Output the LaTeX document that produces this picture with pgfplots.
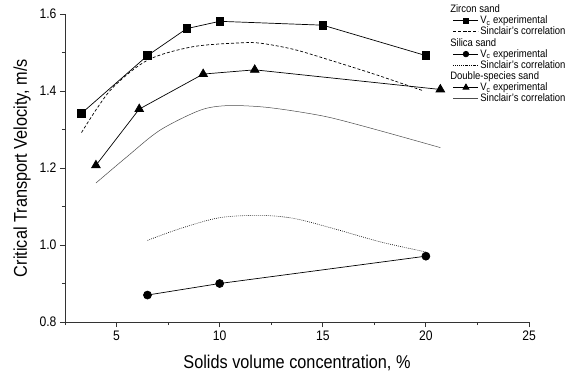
\documentclass[border=0pt]{standalone}
\usepackage{fontspec}
\setmainfont{Liberation Sans}[FakeStretch=0.88]
\usepackage{pgfplots}
\pgfplotsset{compat=1.18}

\begin{document}
\begin{tikzpicture}
\begin{axis}[
  scale only axis, width=464pt, height=308pt,
  xmin=2.5, xmax=25, ymin=0.8, ymax=1.6,
  axis x line*=bottom, axis y line*=left,
  xtick pos=bottom, ytick pos=left,
  axis line style={-, line width=0.8pt, black!80},
  xtick={5,10,15,20,25}, minor xtick={2.5,7.5,12.5,17.5,22.5},
  ytick={0.8,1.0,1.2,1.4,1.6}, minor ytick={0.9,1.1,1.3,1.5},
  tick align=outside, major tick length=5pt, minor tick length=3pt,
  every tick/.style={line width=0.8pt, black!80},
  yticklabel style={/pgf/number format/.cd, fixed, fixed zerofill, precision=1},
  /pgf/number format/assume math mode=true,
  ticklabel style={font=\fontsize{13.8}{15}\selectfont},
  label style={font=\fontsize{18.5}{21}\selectfont},
  xlabel={Solids volume concentration, \%},
  ylabel={Critical Transport Velocity, m/s},
  xlabel shift=8pt, ylabel shift=2pt,
  legend style={at={(rel axis cs:0.836,1.035)}, anchor=north west, draw=none, fill=none,
    font=\fontsize{10.8}{11}\selectfont, row sep=-1.2pt, inner sep=0pt,
    nodes={inner sep=1.5pt}},
  legend cell align=left,
  legend image code/.code={\draw[mark repeat=2,mark phase=2,#1,every mark/.append style={scale=0.7}]
     plot coordinates {(0pt,0pt) (12.5pt,0pt) (25pt,0pt)};},
]
% Zircon sand
\addlegendimage{empty legend}
\addlegendentry{\hspace*{-30pt}Zircon sand}
\addplot[black, line width=0.7pt, mark=square*, mark size=3.8pt] coordinates {
 (3.3,1.342) (6.5,1.492) (8.4,1.562) (10,1.581) (15,1.571) (20,1.492)};
\addlegendentry{V\textsubscript{c} experimental}
\addplot[black, line width=0.7pt, dash pattern=on 3pt off 2pt, smooth, tension=0.5] coordinates {
 (3.3,1.292) (4.7,1.402) (6.5,1.480) (8.7,1.515) (11,1.525) (12,1.524) (13.6,1.508)
 (15.36,1.480) (17.6,1.442) (19.9,1.400)};
\addlegendentry{Sinclair's correlation}
% Silica sand
\addlegendimage{empty legend}
\addlegendentry{\hspace*{-30pt}Silica sand}
\addplot[black, line width=0.7pt, mark=*, mark size=4pt] coordinates {
 (6.5,0.870) (10,0.900) (20,0.971)};
\addlegendentry{V\textsubscript{c} experimental}
\addplot[black, line width=0.6pt, dash pattern=on 0.8pt off 1.2pt, smooth, tension=0.5] coordinates {
 (6.5,1.012) (8.1,1.043) (10,1.071) (12,1.077) (13.6,1.069) (15.5,1.043) (17.8,1.008) (20,0.982)};
\addlegendentry{Sinclair's correlation}
% Double-species sand
\addlegendimage{empty legend}
\addlegendentry{\hspace*{-30pt}Double-species sand}
\addplot[black, line width=0.7pt, mark=triangle*, mark size=5pt] coordinates {
 (4.0,1.207) (6.1,1.353) (9.2,1.444) (11.7,1.455) (20.7,1.404)};
\addlegendentry{V\textsubscript{c} experimental}
\addplot[black!70, line width=0.5pt, smooth, tension=0.5] coordinates {
 (4.0,1.161) (5.5,1.229) (7.1,1.298) (9.05,1.350) (10.35,1.362) (12,1.359) (13.6,1.348)
 (15.36,1.331) (17.7,1.298) (20.7,1.253)};
\addlegendentry{Sinclair's correlation}
\end{axis}
\pgfresetboundingbox
\useasboundingbox ([xshift=-65pt,yshift=-53pt]current axis.south west) rectangle ([xshift=500pt,yshift=322pt]current axis.south west);
\end{tikzpicture}
\end{document}
